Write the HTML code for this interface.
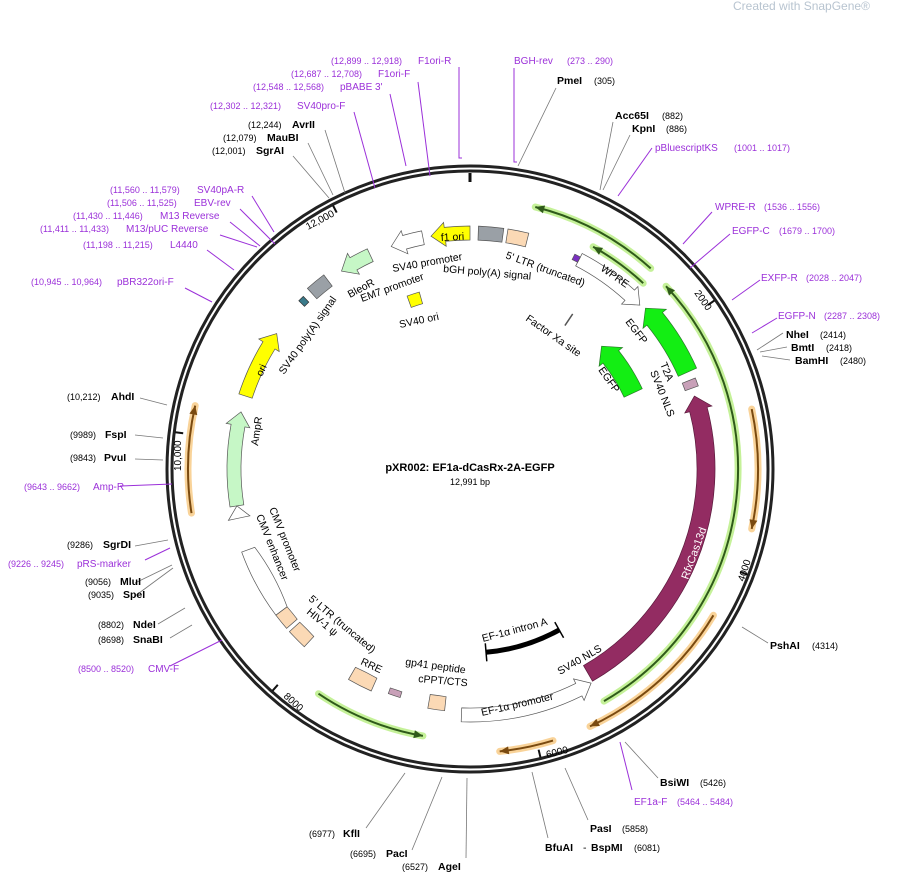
<!DOCTYPE html>
<html><head><meta charset="utf-8">
<style>
html,body{margin:0;padding:0;background:#fff;}
svg{display:block;font-family:"Liberation Sans","DejaVu Sans",sans-serif;}
.p{fill:#9b30d9;font-size:10px;}
.pn{fill:#9b30d9;font-size:9px;}
.b{fill:#000;font-size:10.5px;font-weight:bold;}
.n{fill:#000;font-size:9px;}
.f{fill:#000;font-size:10.5px;}
.pl{stroke:#9b30d9;stroke-width:1;fill:none;}
.gl{stroke:#777;stroke-width:0.8;fill:none;}
</style></head>
<body>
<svg id="s" width="898" height="873" viewBox="0 0 898 873" xmlns="http://www.w3.org/2000/svg">
<text x="733" y="10" style="font-size:12px;fill:#b8c4d0">Created with SnapGene®</text>
<g id="shapes"></g>

<g class="pl">
<path d="M459,67 V158 h3"/><path d="M418,82 L430,176"/><path d="M390,94 L406,166"/><path d="M354,112 L375,188"/>
<path d="M252,196 L274,232"/><path d="M240,209 L275,244"/><path d="M230,222 L260,246"/><path d="M220,235 L257,247"/>
<path d="M207,250 L234,270"/><path d="M185,288 L212,302"/><path d="M120,486 L172,484"/><path d="M145,560 L170,548"/>
<path d="M170,666 L222,640"/><path d="M514,68 V162 h3"/><path d="M652,148 L618,196"/><path d="M712,212 L683,244"/>
<path d="M730,234 L690,268"/><path d="M760,280 L732,300"/><path d="M777,318 L752,333"/><path d="M632,790 L620,742"/>
</g>
<g class="gl">
<path d="M325,130 L345,193"/><path d="M308,143 L333,195"/><path d="M293,156 L329,198"/>
<path d="M140,398 L167,405"/><path d="M135,435 L163,438"/><path d="M135,459 L163,460"/>
<path d="M135,546 L168,540"/><path d="M135,583 L172,565"/><path d="M135,596 L173,568"/>
<path d="M158,624 L185,608"/><path d="M170,638 L192,625"/>
<path d="M366,828 L405,773"/><path d="M412,850 L442,777"/><path d="M466,858 L467,778"/>
<path d="M548,838 L532,772"/><path d="M588,820 L565,768"/><path d="M768,643 L742,627"/><path d="M658,778 L625,742"/>
<path d="M556,88 L518,166"/><path d="M613,122 L600,190"/><path d="M630,135 L603,190"/>
<path d="M783,333 L757,350"/><path d="M787,347 L760,352"/><path d="M790,360 L762,356"/>
</g>

<text x="331" y="64" class="pn">(12,899 .. 12,918)</text><text x="418" y="64" class="p">F1ori-R</text>
<text x="291" y="77" class="pn">(12,687 .. 12,708)</text><text x="378" y="77" class="p">F1ori-F</text>
<text x="253" y="90" class="pn">(12,548 .. 12,568)</text><text x="340" y="90" class="p">pBABE 3'</text>
<text x="210" y="109" class="pn">(12,302 .. 12,321)</text><text x="297" y="109" class="p">SV40pro-F</text>
<text x="248" y="128" class="n">(12,244)</text><text x="292" y="128" class="b">AvrII</text>
<text x="223" y="141" class="n">(12,079)</text><text x="267" y="141" class="b">MauBI</text>
<text x="212" y="154" class="n">(12,001)</text><text x="256" y="154" class="b">SgrAI</text>
<text x="110" y="193" class="pn">(11,560 .. 11,579)</text><text x="197" y="193" class="p">SV40pA-R</text>
<text x="107" y="206" class="pn">(11,506 .. 11,525)</text><text x="194" y="206" class="p">EBV-rev</text>
<text x="73" y="219" class="pn">(11,430 .. 11,446)</text><text x="160" y="219" class="p">M13 Reverse</text>
<text x="40" y="232" class="pn">(11,411 .. 11,433)</text><text x="126" y="232" class="p">M13/pUC Reverse</text>
<text x="83" y="248" class="pn">(11,198 .. 11,215)</text><text x="170" y="248" class="p">L4440</text>
<text x="31" y="285" class="pn">(10,945 .. 10,964)</text><text x="117" y="285" class="p">pBR322ori-F</text>
<text x="67" y="400" class="n">(10,212)</text><text x="111" y="400" class="b">AhdI</text>
<text x="70" y="438" class="n">(9989)</text><text x="105" y="438" class="b">FspI</text>
<text x="70" y="461" class="n">(9843)</text><text x="104" y="461" class="b">PvuI</text>
<text x="24" y="490" class="pn">(9643 .. 9662)</text><text x="93" y="490" class="p">Amp-R</text>
<text x="67" y="548" class="n">(9286)</text><text x="103" y="548" class="b">SgrDI</text>
<text x="8" y="567" class="pn">(9226 .. 9245)</text><text x="77" y="567" class="p">pRS-marker</text>
<text x="85" y="585" class="n">(9056)</text><text x="120" y="585" class="b">MluI</text>
<text x="88" y="598" class="n">(9035)</text><text x="123" y="598" class="b">SpeI</text>
<text x="98" y="628" class="n">(8802)</text><text x="133" y="628" class="b">NdeI</text>
<text x="98" y="643" class="n">(8698)</text><text x="133" y="643" class="b">SnaBI</text>
<text x="78" y="672" class="pn">(8500 .. 8520)</text><text x="148" y="672" class="p">CMV-F</text>
<text x="309" y="837" class="n">(6977)</text><text x="343" y="837" class="b">KflI</text>
<text x="350" y="857" class="n">(6695)</text><text x="386" y="857" class="b">PacI</text>
<text x="402" y="870" class="n">(6527)</text><text x="438" y="870" class="b">AgeI</text>
<text x="545" y="851" class="b">BfuAI</text><text x="583" y="851" class="f">-</text><text x="591" y="851" class="b">BspMI</text><text x="634" y="851" class="n">(6081)</text>
<text x="590" y="832" class="b">PasI</text><text x="622" y="832" class="n">(5858)</text>
<text x="770" y="649" class="b">PshAI</text><text x="812" y="649" class="n">(4314)</text>
<text x="660" y="786" class="b">BsiWI</text><text x="700" y="786" class="n">(5426)</text>
<text x="634" y="805" class="p">EF1a-F</text><text x="677" y="805" class="pn">(5464 .. 5484)</text>
<text x="514" y="64" class="p">BGH-rev</text><text x="567" y="64" class="pn">(273 .. 290)</text>
<text x="557" y="84" class="b">PmeI</text><text x="594" y="84" class="n">(305)</text>
<text x="615" y="119" class="b">Acc65I</text><text x="662" y="119" class="n">(882)</text>
<text x="632" y="132" class="b">KpnI</text><text x="666" y="132" class="n">(886)</text>
<text x="655" y="151" class="p">pBluescriptKS</text><text x="734" y="151" class="pn">(1001 .. 1017)</text>
<text x="715" y="210" class="p">WPRE-R</text><text x="764" y="210" class="pn">(1536 .. 1556)</text>
<text x="732" y="234" class="p">EGFP-C</text><text x="779" y="234" class="pn">(1679 .. 1700)</text>
<text x="761" y="281" class="p">EXFP-R</text><text x="806" y="281" class="pn">(2028 .. 2047)</text>
<text x="778" y="319" class="p">EGFP-N</text><text x="824" y="319" class="pn">(2287 .. 2308)</text>
<text x="786" y="338" class="b">NheI</text><text x="820" y="338" class="n">(2414)</text>
<text x="791" y="351" class="b">BmtI</text><text x="826" y="351" class="n">(2418)</text>
<text x="795" y="364" class="b">BamHI</text><text x="840" y="364" class="n">(2480)</text>

<text x="470" y="471" text-anchor="middle" style="font-size:11px;font-weight:bold">pXR002: EF1a-dCasRx-2A-EGFP</text>
<text x="470" y="485" text-anchor="middle" style="font-size:9px">12,991 bp</text>

<text class="f" style="font-size:10px" transform="translate(308,230) rotate(-28)">12,000</text>
<text class="f" style="font-size:10px" transform="translate(694,293) rotate(55)">2000</text>
<text class="f" style="font-size:10px" transform="translate(744,582) rotate(-72)">4000</text>
<text class="f" style="font-size:10px" transform="translate(547,758) rotate(-14)">6000</text>
<text class="f" style="font-size:10px" transform="translate(283,697) rotate(42)">8000</text>
<text class="f" style="font-size:10px" transform="translate(181,471) rotate(-90)">10,000</text>

<text class="f" transform="translate(441,241) rotate(-3)">f1 ori</text>
<text class="f" transform="translate(393,272) rotate(-10)">SV40 promoter</text>
<text class="f" transform="translate(443,272) rotate(5)">bGH poly(A) signal</text>
<text class="f" transform="translate(505,258) rotate(20)">5' LTR (truncated)</text>
<text class="f" transform="translate(600,270) rotate(35)">WPRE</text>
<text class="f" transform="translate(625,322) rotate(52)">EGFP</text>
<text class="f" transform="translate(525,320) rotate(35)">Factor Xa site</text>
<text class="f" transform="translate(598,370) rotate(55)">EGFP</text>
<text class="f" transform="translate(660,364) rotate(68)">T2A</text>
<text class="f" transform="translate(650,372) rotate(68)">SV40 NLS</text>
<text transform="translate(688,580) rotate(-70)" style="font-size:11px;fill:#fff">RfxCas13d</text>
<text class="f" transform="translate(350,298) rotate(-28)">BleoR</text>
<text class="f" transform="translate(362,302) rotate(-20)">EM7 promoter</text>
<text class="f" transform="translate(400,328) rotate(-12)">SV40 ori</text>
<text class="f" transform="translate(284,375) rotate(-55)">SV40 poly(A) signal</text>
<text class="f" transform="translate(262,377) rotate(-65)">ori</text>
<text class="f" transform="translate(258,446) rotate(-82)">AmpR</text>
<text class="f" transform="translate(269,509) rotate(68)">CMV promoter</text>
<text class="f" transform="translate(256,516) rotate(68)">CMV enhancer</text>
<text class="f" transform="translate(308,600) rotate(40)">5' LTR (truncated)</text>
<text class="f" transform="translate(306,613) rotate(40)">HIV-1 ψ</text>
<text class="f" transform="translate(360,664) rotate(25)">RRE</text>
<text class="f" transform="translate(405,665) rotate(8)">gp41 peptide</text>
<text class="f" transform="translate(418,682) rotate(5)">cPPT/CTS</text>
<text class="f" transform="translate(482,716) rotate(-13)">EF-1α promoter</text>
<text class="f" transform="translate(560,675) rotate(-30)">SV40 NLS</text>
<text class="f" transform="translate(483,642) rotate(-15)">EF-1α intron A</text>
</svg>
<script>
(function(){
var NS="http://www.w3.org/2000/svg",g=document.getElementById("shapes");
var cx=470,cy=469;
function P(r,a){var t=a*Math.PI/180;return [cx+r*Math.sin(t),cy-r*Math.cos(t)];}
function f(p){return p[0].toFixed(1)+","+p[1].toFixed(1);}
function el(n,at){var e=document.createElementNS(NS,n);for(var k in at)e.setAttribute(k,at[k]);g.appendChild(e);return e;}
function arcD(r,a1,a2){var s=P(r,a1),e=P(r,a2),lg=Math.abs(a2-a1)>180?1:0,sw=a2>a1?1:0;return "M"+f(s)+" A"+r+","+r+" 0 "+lg+" "+sw+" "+f(e);}
function band(r,w,a1,a2,fill,stroke,dir){
 var ro=r+w/2,ri=r-w/2,h=(14/r)*180/Math.PI,d;
 if(!dir){d=arcD(ro,a1,a2)+" L"+f(P(ri,a2))+" A"+ri+","+ri+" 0 0 0 "+f(P(ri,a1))+"Z";}
 else if(dir=="cw"){var b=Math.max(a1,a2-h);d=arcD(ro,a1,b)+" L"+f(P(ro+5,b))+" L"+f(P(r,a2))+" L"+f(P(ri-5,b))+" L"+f(P(ri,b))+" A"+ri+","+ri+" 0 0 0 "+f(P(ri,a1))+"Z";}
 else {var b=Math.min(a2,a1+h);d="M"+f(P(r,a1))+" L"+f(P(ro+5,b))+" L"+f(P(ro,b))+" A"+ro+","+ro+" 0 0 1 "+f(P(ro,a2))+" L"+f(P(ri,a2))+" A"+ri+","+ri+" 0 0 0 "+f(P(ri,b))+" L"+f(P(ri-5,b))+"Z";}
 el("path",{d:d,fill:fill,stroke:stroke||"#555","stroke-width":0.7});
}
function thin(r,a1,a2,col,glow,head){
 el("path",{d:arcD(r,a1,a2),fill:"none",stroke:glow,"stroke-width":7,"stroke-linecap":"round",opacity:0.8});
 el("path",{d:arcD(r,a1,a2),fill:"none",stroke:col,"stroke-width":2});
 var h=(9/r)*180/Math.PI,tip=head,bk=head==a1?a1+(a2>a1?h:-h):a2+(a2>a1?-h:h);
 el("path",{d:"M"+f(P(r,tip))+" L"+f(P(r+4,bk))+" L"+f(P(r-4,bk))+"Z",fill:col});
}
el("circle",{cx:cx,cy:cy,r:303,fill:"none",stroke:"#222","stroke-width":3});
el("circle",{cx:cx,cy:cy,r:298,fill:"none",stroke:"#222","stroke-width":3});
el("path",{d:"M"+f(P(296,0))+" L"+f(P(287,0)),stroke:"#111","stroke-width":3});
[2000,4000,6000,8000,10000,12000].forEach(function(b){var a=b/12991*360;el("path",{d:"M"+f(P(297,a))+" L"+f(P(289,a)),stroke:"#111","stroke-width":2});});
thin(270,14,42,"#2f5a1a","#b6ee80",14);
thin(254,29,43,"#2f5a1a","#b6ee80",29);
thin(268,47,150,"#2f5a1a","#b6ee80",47);
thin(288,78,102,"#7a4a10","#f7c880",102);
thin(284,121,155,"#7a4a10","#f7c880",155);
thin(284,163,174,"#7a4a10","#f7c880",174);
thin(271,-146,-170,"#2f5a1a","#b6ee80",-170);
thin(282,-99,-77,"#7a4a10","#f7c880",-77);
band(236,18,72,150,"#932c62","#5a1a3c","ccw");
band(238,20,47.5,66,"#13ee13","#2a7a2a","ccw");
band(180,20,47,65,"#13ee13","#2a7a2a","ccw");
band(236,14,27.5,46,"#fff","#555","cw");
band(236,14,9,14,"#fbd9b5","#555");
band(236,14,2,8,"#9aa0a6","#555");
band(236,14,-9.5,0,"#ffff00","#555","ccw");
band(236,14,-19.5,-11.5,"#fff","#555","ccw");
band(236,14,-33,-25,"#c6f7c6","#555","ccw");
band(236,14,-42,-37,"#9aa0a6","#555");
band(236,8,-45.5,-44,"#3a7a8a","#333");
band(236,14,-72,-55,"#ffff00","#555","cw");
band(236,14,-99,-76,"#c6f7c6","#555","cw");
band(236,12,-102,-99,"#fff","#555","cw");
band(236,14,-110,-127,"#fff","#555");
band(236,14,-127,-131,"#fbd9b5","#555");
band(236,14,-132,-137,"#fbd9b5","#555");
band(236,14,-150,-156,"#fbd9b5","#555");
band(236,6,-160,-163,"#c8a0b8","#555");
band(236,14,-170,-174,"#fbd9b5","#555");
band(246,14,150.5,182,"#fff","#555","ccw");
band(236,14,68,70,"#c8a0b8","#555");
band(178,12,-20,-16,"#ffff00","#555");
band(236,6,26,27.5,"#7a30c0","#555");
el("path",{d:arcD(184,151,175),fill:"none",stroke:"#000","stroke-width":5});
[151,175].forEach(function(a){el("path",{d:"M"+f(P(175,a))+" L"+f(P(193,a)),stroke:"#000","stroke-width":1.5});});
el("path",{d:"M"+f(P(172,33.5))+" L"+f(P(186,33.5)),stroke:"#555","stroke-width":1.5});
})();
</script>
</body></html>
